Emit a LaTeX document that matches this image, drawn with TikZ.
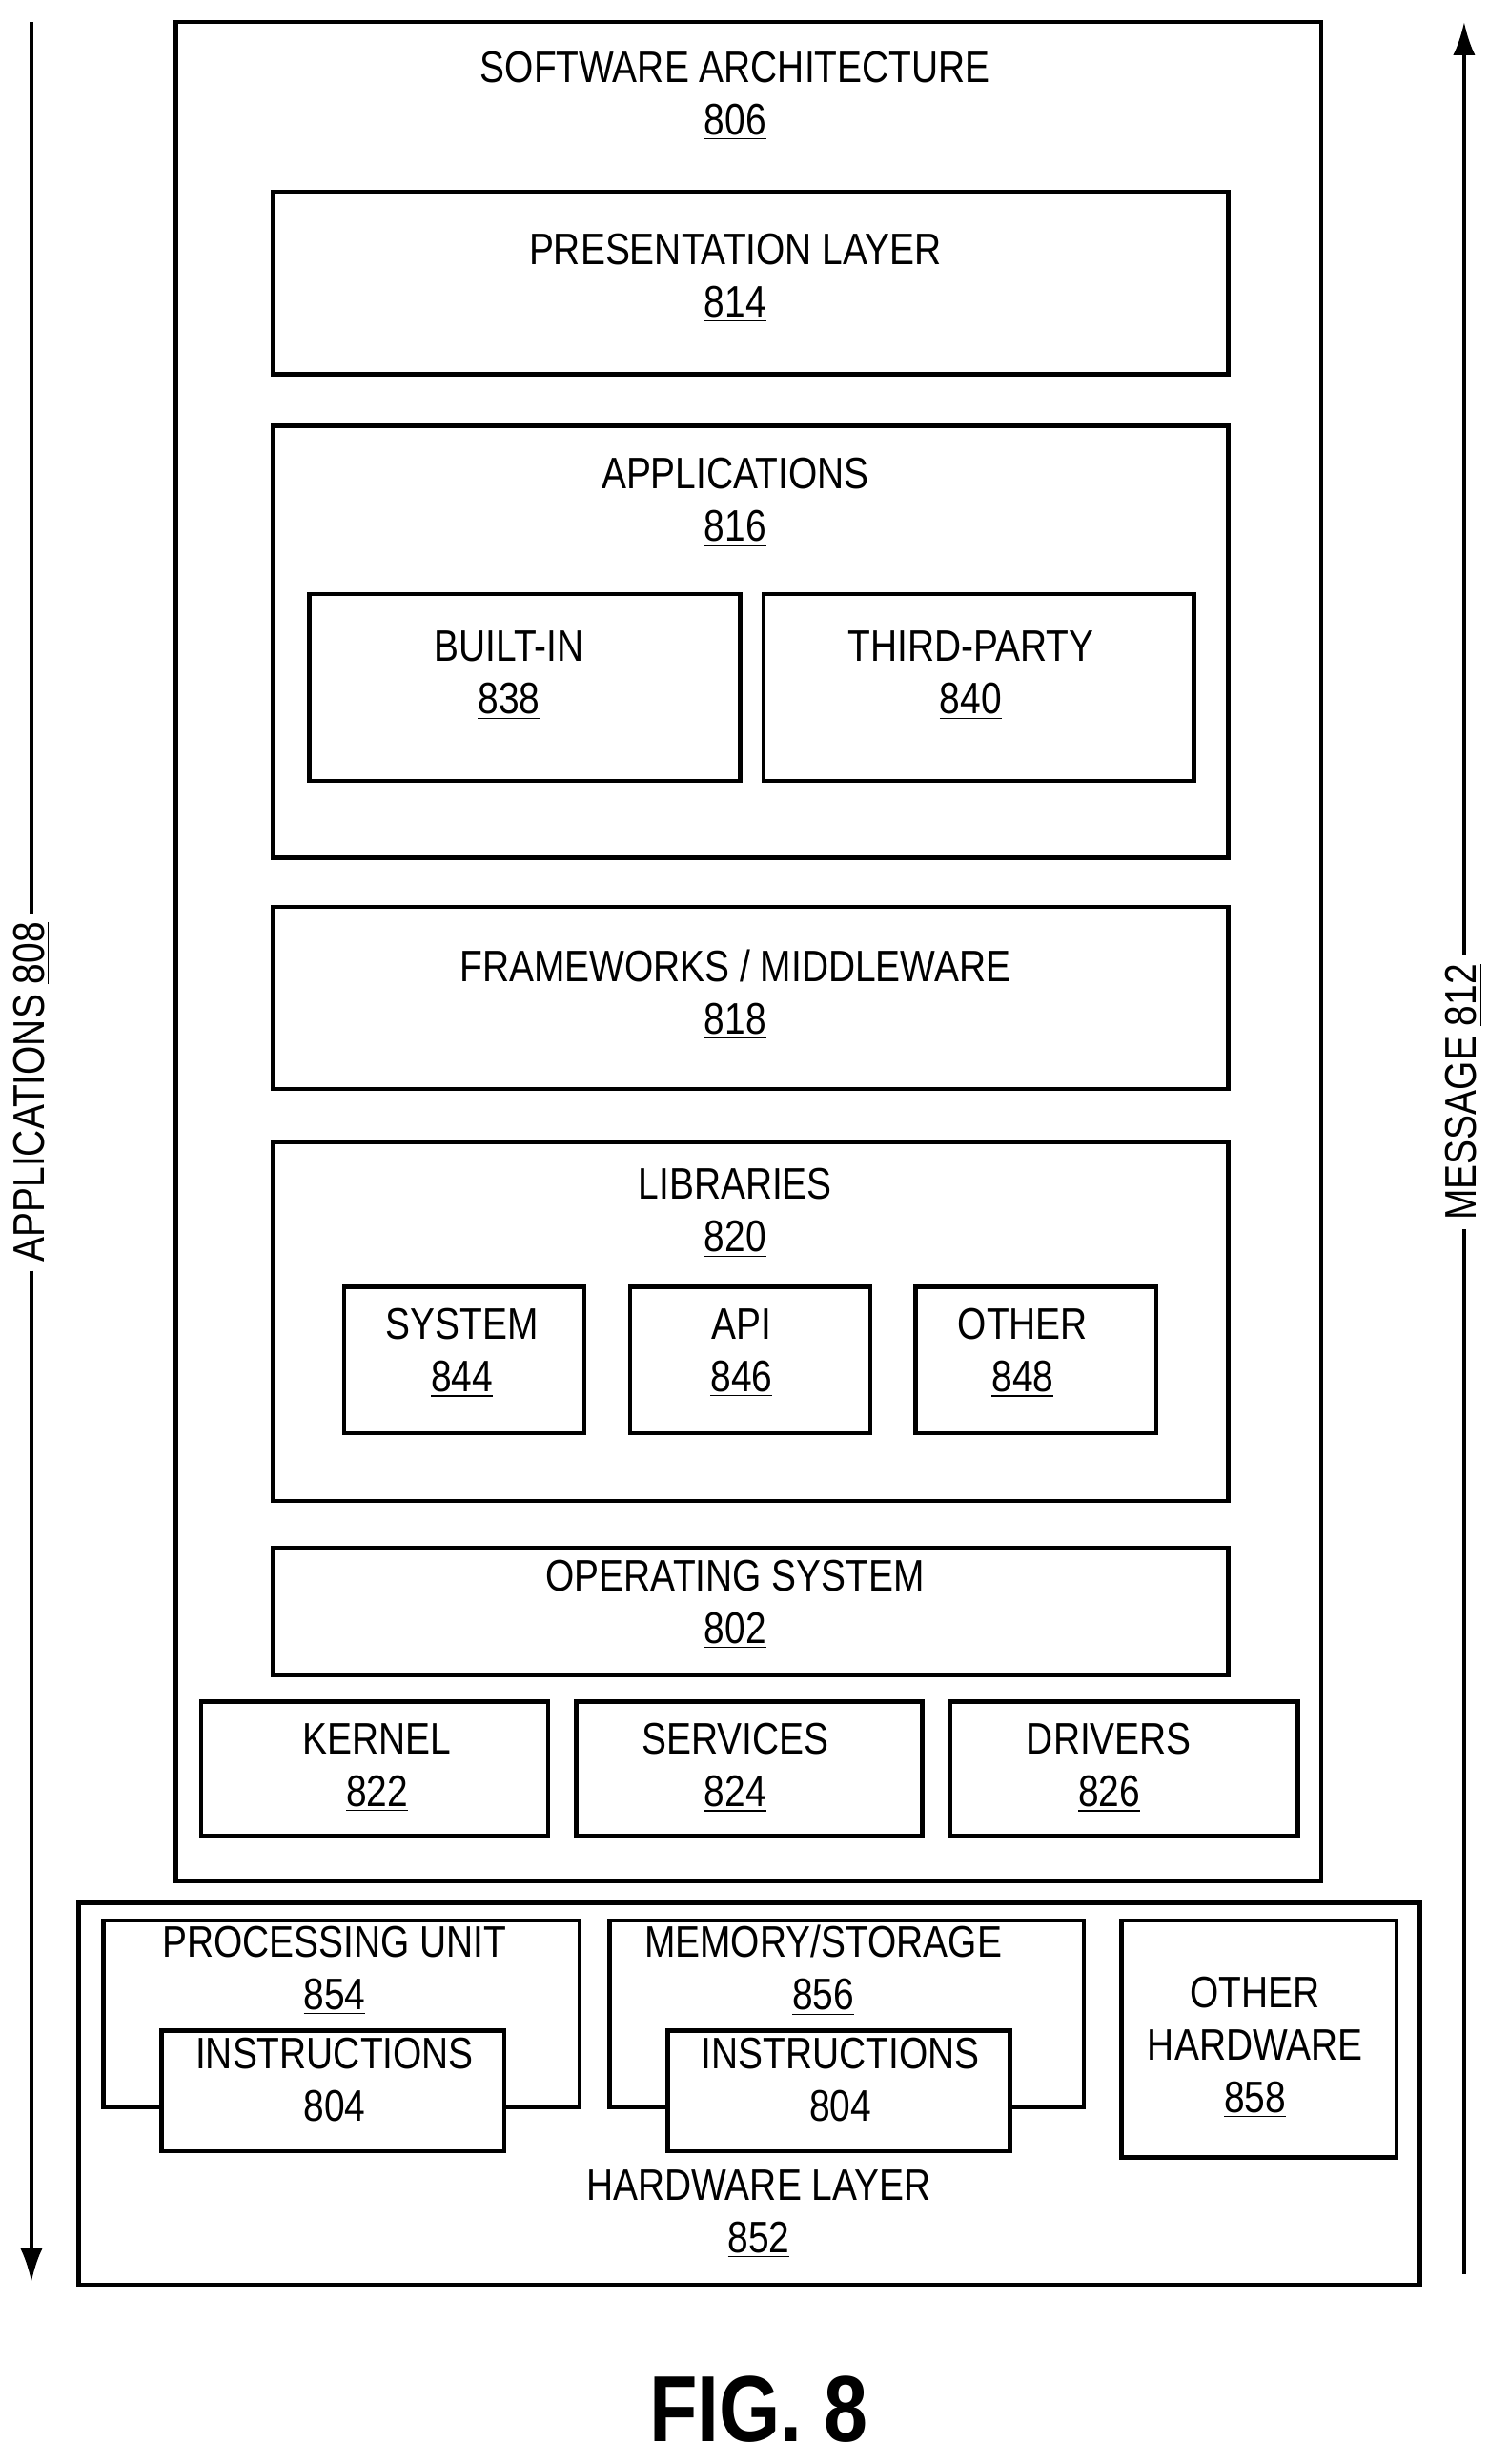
\documentclass[tikz,border=0pt]{standalone}
\usepackage{fontspec}
\setmainfont{Liberation Sans}[FakeStretch=0.84]
\usetikzlibrary{arrows.meta}

\tikzset{
  box/.style={draw, line width=1.6pt},
  lbl/.style={align=center, font=\fontsize{16}{19}\selectfont, inner sep=0pt},
  side/.style={lbl, rotate=90, fill=white, inner sep=3pt},
  flow/.style={line width=1.2pt, -{Latex[length=12pt,width=8pt]}}
}
\newcommand{\num}[1]{\underline{#1}}

\begin{document}
\begin{tikzpicture}[x=0.02cm, y=-0.02cm]
  \useasboundingbox (0,0) rectangle (960,1568);

  % Software architecture
  \draw[box] (112,14) rectangle (841,1197);
  \node[lbl] (sa) at (468,61) {SOFTWARE ARCHITECTURE\\\num{806}};

  \draw[box] (174,122) rectangle (782,238);
  \node[lbl] (pres) at (468,177) {PRESENTATION LAYER\\\num{814}};

  \draw[box] (174,271) rectangle (782,546);
  \node[lbl] (apps) at (468,320) {APPLICATIONS\\\num{816}};
  \draw[box] (197,378) rectangle (471,497);
  \node[lbl] (builtin) at (324,430) {BUILT-IN\\\num{838}};
  \draw[box] (486,378) rectangle (760,497);
  \node[lbl] (third) at (618,430) {THIRD-PARTY\\\num{840}};

  \draw[box] (174,577) rectangle (782,693);
  \node[lbl] (frame) at (468,633) {FRAMEWORKS / MIDDLEWARE\\\num{818}};

  \draw[box] (174,727) rectangle (782,955);
  \node[lbl] (libs) at (468,772) {LIBRARIES\\\num{820}};
  \draw[box] (219,819) rectangle (372,912);
  \node[lbl] (system) at (294,861) {SYSTEM\\\num{844}};
  \draw[box] (401,819) rectangle (554,912);
  \node[lbl] (api) at (472,861) {API\\\num{846}};
  \draw[box] (583,819) rectangle (736,912);
  \node[lbl] (other) at (651,861) {OTHER\\\num{848}};

  \draw[box] (174,985) rectangle (782,1066);
  \node[lbl] (os) at (468,1021) {OPERATING SYSTEM\\\num{802}};

  \draw[box] (128,1083) rectangle (349,1168);
  \node[lbl] (kernel) at (240,1125) {KERNEL\\\num{822}};
  \draw[box] (367,1083) rectangle (587,1168);
  \node[lbl] (services) at (468,1125) {SERVICES\\\num{824}};
  \draw[box] (605,1083) rectangle (826,1168);
  \node[lbl] (drivers) at (706,1125) {DRIVERS\\\num{826}};

  % Hardware layer
  \draw[box] (50,1211) rectangle (904,1454);
  \node[lbl] (hw) at (483,1409) {HARDWARE LAYER\\\num{852}};

  \draw[box] (66,1222) rectangle (369,1341);
  \node[lbl] (cpu) at (213,1254) {PROCESSING UNIT\\\num{854}};
  \draw[box, fill=white] (103,1292) rectangle (321,1369);
  \node[lbl] (instrA) at (213,1325) {INSTRUCTIONS\\\num{804}};

  \draw[box] (388,1222) rectangle (690,1341);
  \node[lbl] (mem) at (524,1254) {MEMORY/STORAGE\\\num{856}};
  \draw[box, fill=white] (425,1292) rectangle (643,1369);
  \node[lbl] (instrB) at (535,1325) {INSTRUCTIONS\\\num{804}};

  \draw[box] (714,1222) rectangle (889,1373);
  \node[lbl] (otherhw) at (799,1303) {OTHER\\HARDWARE\\\num{858}};

  % Side arrows
  \coordinate (lt) at (20,14);
  \coordinate (lb) at (20,1452);
  \node[side] (appflow) at (20,695) {APPLICATIONS \num{808}};
  \draw[line width=1.2pt] (lt) -- (appflow);
  \draw[flow] (appflow) -- (lb);

  \coordinate (rt) at (932,14);
  \coordinate (rb) at (932,1447);
  \node[side] (msgflow) at (932,695) {MESSAGE \num{812}};
  \draw[line width=1.2pt] (rb) -- (msgflow);
  \draw[flow] (msgflow) -- (rt);

  \node[font=\fontsize{34}{40}\selectfont\bfseries] (fig) at (483,1533) {FIG. 8};
\end{tikzpicture}
\end{document}
